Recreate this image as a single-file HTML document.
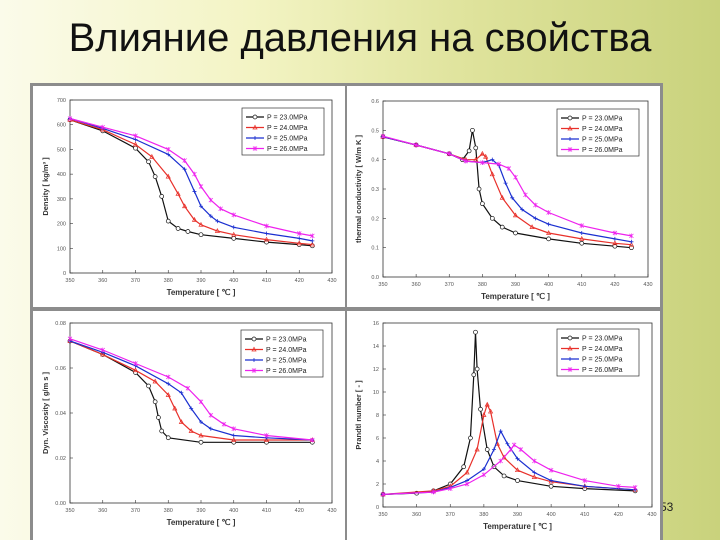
<!DOCTYPE html>
<html><head><meta charset="utf-8">
<style>
html,body{margin:0;padding:0}
body{width:720px;height:540px;position:relative;overflow:hidden;
background:linear-gradient(to right,#fbfbea 0%,#f3f4c4 35%,#dfe39c 65%,#c9d27c 100%);
font-family:"Liberation Sans",sans-serif}
#title{position:absolute;left:0;width:720px;top:16px;text-align:center;font-size:40px;color:#111;letter-spacing:0px}
#pg{position:absolute;left:660px;top:500px;font-size:12px;color:#222}
svg{position:absolute;left:0;top:0}
</style></head><body>
<div id="title">Влияние давления на свойства</div>
<div id="pg">53</div>
<svg id="s" width="720" height="540"></svg>
<script>
// ---- data: [temperature °C, value] ----
const dens23=[[350,620],[360,575],[370,505],[374,450],[376,390],[378,310],[380,210],[383,180],[386,168],[390,155],[400,140],[410,125],[420,115],[424,110]];
const dens24=[[350,620],[360,580],[370,520],[375,470],[380,390],[383,320],[385,270],[388,215],[390,195],[395,170],[400,155],[410,135],[420,120],[424,115]];
const dens25=[[350,625],[360,585],[370,540],[380,480],[385,420],[388,330],[390,270],[393,230],[395,210],[400,185],[410,160],[420,140],[424,130]];
const dens26=[[350,625],[360,590],[370,555],[380,500],[385,455],[388,400],[390,350],[393,295],[396,260],[400,235],[410,190],[420,160],[424,150]];
const tc23=[[350,0.478],[360,0.45],[370,0.42],[374,0.40],[376,0.43],[377,0.50],[378,0.44],[379,0.30],[380,0.25],[383,0.20],[386,0.17],[390,0.15],[400,0.13],[410,0.115],[420,0.105],[425,0.10]];
const tc24=[[350,0.478],[360,0.45],[370,0.42],[375,0.40],[378,0.40],[380,0.42],[381,0.41],[383,0.35],[386,0.27],[390,0.21],[395,0.17],[400,0.15],[410,0.13],[420,0.115],[425,0.11]];
const tc25=[[350,0.478],[360,0.45],[370,0.42],[375,0.395],[380,0.39],[383,0.40],[385,0.38],[387,0.32],[389,0.27],[392,0.23],[396,0.20],[400,0.18],[410,0.15],[420,0.13],[425,0.12]];
const tc26=[[350,0.48],[360,0.45],[370,0.42],[375,0.395],[380,0.39],[385,0.385],[388,0.37],[390,0.34],[393,0.28],[396,0.245],[400,0.22],[410,0.175],[420,0.15],[425,0.14]];
const vis23=[[350,0.072],[360,0.066],[370,0.058],[374,0.052],[376,0.045],[377,0.038],[378,0.032],[380,0.029],[390,0.027],[400,0.027],[410,0.027],[424,0.027]];
const vis24=[[350,0.072],[360,0.066],[370,0.059],[376,0.054],[380,0.048],[382,0.042],[384,0.036],[387,0.032],[390,0.030],[400,0.028],[410,0.028],[424,0.028]];
const vis25=[[350,0.072],[360,0.067],[370,0.061],[380,0.053],[384,0.049],[387,0.042],[390,0.036],[393,0.033],[400,0.030],[410,0.029],[424,0.028]];
const vis26=[[350,0.073],[360,0.068],[370,0.062],[380,0.056],[386,0.051],[390,0.045],[393,0.039],[397,0.035],[400,0.033],[410,0.030],[424,0.028]];
const pr23=[[350,1.1],[360,1.2],[365,1.4],[370,2.0],[374,3.5],[376,6],[377,11.5],[377.5,15.2],[378,12],[379,8.5],[381,5],[383,3.5],[386,2.7],[390,2.3],[400,1.8],[410,1.6],[425,1.4]];
const pr24=[[350,1.1],[365,1.4],[370,1.8],[375,3],[378,5],[380,8],[381,8.9],[382,8.3],[384,5.5],[386,4.3],[390,3.2],[395,2.6],[400,2.2],[410,1.8],[425,1.5]];
const pr25=[[350,1.1],[365,1.3],[370,1.7],[375,2.3],[380,3.3],[383,5],[385,6.6],[387,5.5],[390,4.2],[395,3.0],[400,2.3],[410,1.8],[425,1.5]];
const pr26=[[350,1.1],[365,1.3],[370,1.6],[375,2],[380,2.8],[385,4],[388,5],[389,5.4],[391,5],[395,4],[400,3.2],[410,2.3],[420,1.8],[425,1.7]];
const xTicks=[350,360,370,380,390,400,410,420,430];
const densTicks=[0,100,200,300,400,500,600,700];
const tcTicks=[0.0,0.1,0.2,0.3,0.4,0.5,0.6];
const visTicks=[0.00,0.02,0.04,0.06,0.08];
const prTicks=[0,2,4,6,8,10,12,14,16];
const legendLabels=["P = 23.0MPa","P = 24.0MPa","P = 25.0MPa","P = 26.0MPa"];

const NS="http://www.w3.org/2000/svg";
const svg=document.getElementById('s');
function mk(t,a,p){const e=document.createElementNS(NS,t);for(const k in a)e.setAttribute(k,a[k]);(p||svg).appendChild(e);return e;}
const colors=["#111","#e8302a","#1a2fd0","#ee22ee"];

// frame
const fr=mk('rect',{x:30,y:83,width:633,height:457,fill:'#8c8c8c'});



function marker(g,k,x,y,c){
  if(k===0)mk('circle',{cx:x,cy:y,r:2,fill:'#fff',stroke:c,'stroke-width':0.7},g);
  else if(k===1)mk('path',{d:`M${x},${y-2.2}L${x+2},${y+1.5}L${x-2},${y+1.5}Z`,fill:'none',stroke:c,'stroke-width':0.7},g);
  else if(k===2)mk('path',{d:`M${x-2},${y}H${x+2}M${x},${y-2}V${y+2}`,stroke:c,'stroke-width':0.8},g);
  else mk('path',{d:`M${x-2},${y-2}L${x+2},${y+2}M${x+2},${y-2}L${x-2},${y+2}M${x},${y-2.4}V${y+2.4}`,stroke:c,'stroke-width':0.7},g);
}

function panel(cfg){
  const g=mk('g',{});
  
  
  mk('rect',{x:cfg.px,y:cfg.py,width:cfg.pw,height:cfg.ph,fill:'#fff'},g);
  const L=cfg.L,R=cfg.R,T=cfg.T,B=cfg.B;
  const xs=v=>L+(v-350)/80*(R-L);
  const ys=v=>B-(v-cfg.ymin)/(cfg.ymax-cfg.ymin)*(B-T);
  mk('rect',{x:L,y:T,width:R-L,height:B-T,fill:'none',stroke:'#333','stroke-width':0.8},g);
  xTicks.forEach(t=>{
    const x=xs(t);
    mk('line',{x1:x,y1:B,x2:x,y2:B-3,stroke:'#333','stroke-width':0.6},g);
    const tx=mk('text',{x:x,y:B+9,'font-size':5.5,'text-anchor':'middle',fill:'#555'},g);
    tx.textContent=t;
    
    
  });
  cfg.ticks.forEach(t=>{
    const y=ys(t);
    mk('line',{x1:L,y1:y,x2:L+3,y2:y,stroke:'#333','stroke-width':0.6},g);
    const tx=mk('text',{x:L-4,y:y+2,'font-size':5.5,'text-anchor':'end',fill:'#555'},g);
    tx.textContent=cfg.fmt(t);
    
    
  });
  const xt=mk('text',{x:(L+R)/2,y:B+22,'font-size':8,'font-weight':'bold','text-anchor':'middle',fill:'#333'},g);
  xt.textContent="Temperature  [ ℃ ]";
  
  
  const yt=mk('text',{x:0,y:0,'font-size':7.5,'font-weight':'bold','text-anchor':'middle',fill:'#333',transform:`translate(${L-22},${(T+B)/2}) rotate(-90)`},g);
  yt.textContent=cfg.ylabel;
  
  
  cfg.series.forEach((s,k)=>{
    const d=s.map((p,i)=>(i?'L':'M')+xs(p[0]).toFixed(1)+','+ys(p[1]).toFixed(1)).join('');
    const pl=mk('path',{d:d,fill:'none',stroke:colors[k],'stroke-width':1.2},g);
    
    
    s.forEach(p=>marker(g,k,xs(p[0]),ys(p[1]),colors[k]));
  });
  // legend
  const lx=cfg.lx,ly=cfg.ly;
  const lg=mk('g',{},g);
  
  
  mk('rect',{x:lx,y:ly,width:82,height:47,fill:'#fff',stroke:'#333','stroke-width':0.7},lg);
  legendLabels.forEach((lab,k)=>{
    const y=ly+9+k*10.5;
    mk('line',{x1:lx+4,y1:y,x2:lx+22,y2:y,stroke:colors[k],'stroke-width':1.2},lg);
    marker(lg,k,lx+13,y,colors[k]);
    const t=mk('text',{x:lx+25,y:y+2.5,'font-size':7,fill:'#222'},lg);
    t.textContent=lab;
    
    
  });
}

panel({name:'density-chart',px:33,py:86,pw:312,ph:221,L:70,R:332,T:100,B:273,ymin:0,ymax:700,ticks:densTicks,fmt:t=>t,
  ylabel:'Density [ kg/m³ ]',series:[dens23,dens24,dens25,dens26],lx:242,ly:108});
panel({name:'thermal-conductivity-chart',px:347,py:86,pw:313,ph:221,L:383,R:648,T:101,B:277,ymin:0,ymax:0.6,ticks:tcTicks,fmt:t=>t.toFixed(1),
  ylabel:'thermal conductivity [ W/m K ]',series:[tc23,tc24,tc25,tc26],lx:557,ly:109});
panel({name:'viscosity-chart',px:33,py:311,pw:312,ph:229,L:70,R:332,T:323,B:503,ymin:0,ymax:0.08,ticks:visTicks,fmt:t=>t.toFixed(2),
  ylabel:'Dyn. Viscosity [ g/m s ]',series:[vis23,vis24,vis25,vis26],lx:241,ly:330});
panel({name:'prandtl-chart',px:347,py:311,pw:313,ph:229,L:383,R:652,T:323,B:507,ymin:0,ymax:16,ticks:prTicks,fmt:t=>t,
  ylabel:'Prandtl number [ - ]',series:[pr23,pr24,pr25,pr26],lx:557,ly:329});
</script>
</body></html>
